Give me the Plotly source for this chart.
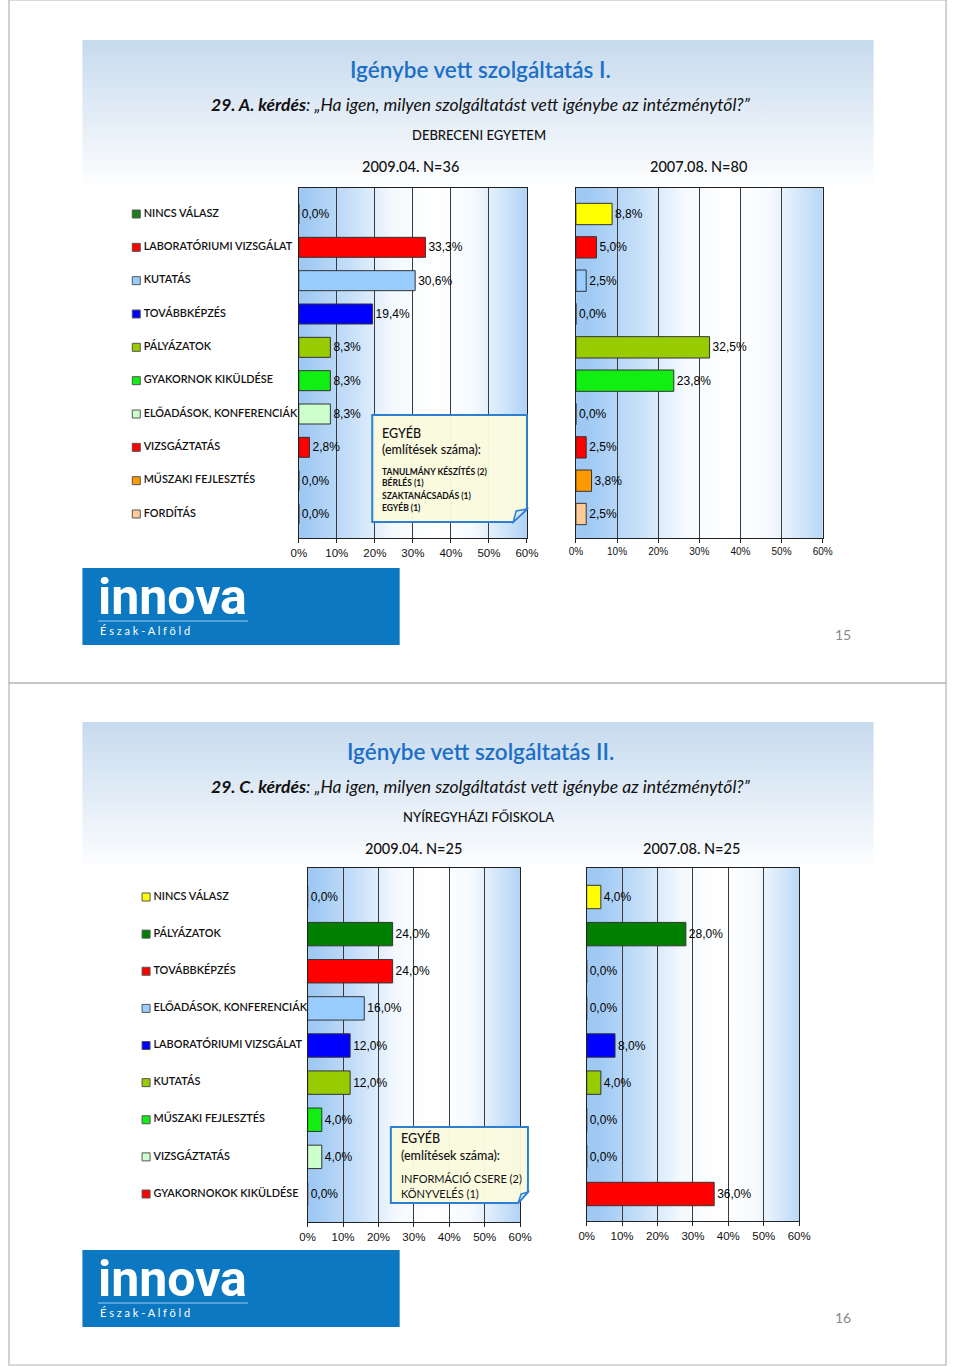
import plotly.graph_objects as go

W, H = 960, 1367

# ---------------- data ----------------
cats_s1 = ["NINCS VÁLASZ", "LABORATÓRIUMI VIZSGÁLAT", "KUTATÁS", "TOVÁBBKÉPZÉS",
           "PÁLYÁZATOK", "GYAKORNOK KIKÜLDÉSE", "ELŐADÁSOK, KONFERENCIÁK",
           "VIZSGÁZTATÁS", "MŰSZAKI FEJLESZTÉS", "FORDÍTÁS"]
vals_s1_2009 = [0.0, 33.3, 30.6, 19.4, 8.3, 8.3, 8.3, 2.8, 0.0, 0.0]
vals_s1_2007 = [8.8, 5.0, 2.5, 0.0, 32.5, 23.8, 0.0, 2.5, 3.8, 2.5]
colors_s1_2009 = ["#1b7f1b", "#ff0000", "#99ccff", "#0000ff", "#99cc00",
                  "#11ee11", "#ccffcc", "#ff0000", "#ff9900", "#ffcc99"]
colors_s1_2007 = ["#ffff00", "#ff0000", "#99ccff", "#0000ff", "#99cc00",
                  "#11ee11", "#ccffcc", "#ff0000", "#ff9900", "#ffcc99"]

cats_s2 = ["NINCS VÁLASZ", "PÁLYÁZATOK", "TOVÁBBKÉPZÉS", "ELŐADÁSOK, KONFERENCIÁK",
           "LABORATÓRIUMI VIZSGÁLAT", "KUTATÁS", "MŰSZAKI FEJLESZTÉS",
           "VIZSGÁZTATÁS", "GYAKORNOKOK KIKÜLDÉSE"]
vals_s2_2009 = [0.0, 24.0, 24.0, 16.0, 12.0, 12.0, 4.0, 4.0, 0.0]
vals_s2_2007 = [4.0, 28.0, 0.0, 0.0, 8.0, 4.0, 0.0, 0.0, 36.0]
colors_s2 = ["#ffff00", "#008000", "#ff0000", "#99ccff", "#0000ff",
             "#99cc00", "#11ee11", "#ccffcc", "#ff0000"]

tick_vals = [0, 10, 20, 30, 40, 50, 60]
tick_text = ["0%", "10%", "20%", "30%", "40%", "50%", "60%"]

egyeb_s1 = ["TANULMÁNY KÉSZÍTÉS (2)", "BÉRLÉS (1)", "SZAKTANÁCSADÁS (1)", "EGYÉB (1)"]
egyeb_s2 = ["INFORMÁCIÓ CSERE (2)", "KÖNYVELÉS (1)"]


def px(x):
    return x / W


def py(y):
    return 1 - y / H


def fmt(v):
    return f"{v:.1f}".replace(".", ",") + "%"


ARIAL = "Liberation Sans, Arial, sans-serif"
CAL = "Lato, Open Sans, sans-serif"

fig = go.Figure()

# page-decoration axis (first subplot, drawn underneath the charts)
fig.update_layout(
    xaxis=dict(domain=[0, 1], range=[0, W], visible=False, fixedrange=True),
    yaxis=dict(domain=[0, 1], range=[H, 0], visible=False, fixedrange=True),
)


def panel(x0, x1, y0, y1, **kw):
    fig.add_trace(go.Scatter(x=[x0, x1, x1, x0, x0], y=[y0, y0, y1, y1, y0],
                             mode="lines", line=dict(width=0), fill="toself",
                             hoverinfo="skip", showlegend=False,
                             xaxis="x", yaxis="y", **kw))


for (t, b) in [(40, 190), (722, 872)]:
    panel(76, 884, t, b,
          fillgradient=dict(type="vertical", start=t, stop=b,
                            colorscale=[[0, "#c6daee"], [1, "#ffffff"]]))
for t in [568, 1250]:
    panel(76, 400, t, t + 77, fillcolor="#0b78c1")

charts = [
    dict(n=2, cats=cats_s1, vals=vals_s1_2009, cols=colors_s1_2009, x0=297, x1=530,
         top=188, bot=538, first=214, last=514, bw=0.6, fs=12, tfs=11.5),
    dict(n=3, cats=cats_s1, vals=vals_s1_2007, cols=colors_s1_2007, x0=580, x1=832,
         top=188, bot=538, first=214, last=514, bw=0.64, fs=12, tfs=10),
    dict(n=4, cats=cats_s2, vals=vals_s2_2009, cols=colors_s2, x0=306, x1=523,
         top=868, bot=1222, first=897, last=1194, bw=0.63, fs=12, tfs=11.5),
    dict(n=5, cats=cats_s2, vals=vals_s2_2007, cols=colors_s2, x0=591, x1=808,
         top=868, bot=1221, first=897, last=1194, bw=0.63, fs=12, tfs=11.5),
]

bg_scale = [[0, "#9fc9f3"], [0.18, "#c3ddf8"], [0.38, "#f4f9fe"], [0.55, "#ffffff"],
            [0.72, "#f6fafe"], [0.86, "#cfe4f9"], [1, "#9fc9f3"]]

for c in charts:
    panel(c["x0"], c["x1"], c["top"], c["bot"],
          fillgradient=dict(type="horizontal", start=c["x0"], stop=c["x1"],
                            colorscale=bg_scale))

for c in charts:
    n = c["n"]
    cnt = len(c["cats"])
    s = (c["last"] - c["first"]) / (cnt - 1)
    yr = [cnt - 1 + (c["bot"] - c["last"]) / s, -(c["first"] - c["top"]) / s]
    ypos = list(range(cnt))
    xa, ya = f"x{n}", f"y{n}"
    fig.layout[f"xaxis{n}"] = dict(
        domain=[px(c["x0"]), px(c["x1"])], anchor=ya, range=[0, 60],
        tickvals=tick_vals, ticktext=tick_text, showgrid=True, gridcolor="#3a3a3a",
        gridwidth=1, showline=True, linecolor="#222", linewidth=1, mirror=True,
        ticks="outside", ticklen=4, tickcolor="#222", zeroline=False,
        tickfont=dict(family=ARIAL, size=c["tfs"], color="#111"), fixedrange=True)
    fig.layout[f"yaxis{n}"] = dict(
        domain=[py(c["bot"]), py(c["top"])], anchor=xa, range=yr,
        showticklabels=False, showgrid=False, zeroline=False, showline=True,
        linecolor="#222", linewidth=1, mirror=True, fixedrange=True)
    fig.add_trace(go.Bar(
        x=c["vals"], y=ypos, orientation="h", width=c["bw"],
        marker=dict(color=c["cols"], line=dict(color="#333333", width=1)),
        text=[fmt(v) for v in c["vals"]], textposition="outside",
        textfont=dict(family=ARIAL, size=c["fs"], color="#000"),
        cliponaxis=False, showlegend=False, hoverinfo="skip", xaxis=xa, yaxis=ya))

legends = [
    dict(n=6, ya="y2", cats=cats_s1, cols=colors_s1_2009, x0=131, fs=10.9),
    dict(n=7, ya="y4", cats=cats_s2, cols=colors_s2, x0=141, fs=10.9),
]
for L in legends:
    fig.layout[f"xaxis{L['n']}"] = dict(domain=[px(L["x0"]), px(L["x0"] + 150)],
                                        range=[0, 1], anchor=L["ya"], visible=False,
                                        fixedrange=True)
    fig.add_trace(go.Scatter(
        x=[0] * len(L["cats"]), y=list(range(len(L["cats"]))), mode="markers+text",
        marker=dict(symbol="square", size=8, color=L["cols"],
                    line=dict(color="#555", width=1)),
        text=["\u2009" + t for t in L["cats"]], textposition="middle right",
        textfont=dict(family=CAL, size=L["fs"], color="#111", weight=600),
        cliponaxis=False, showlegend=False, hoverinfo="skip",
        xaxis=f"x{L['n']}", yaxis=L["ya"]))

shapes = []
for (t, b) in [(0, 683), (683, 1365)]:
    shapes.append(dict(type="rect", xref="paper", yref="paper", x0=px(1), x1=px(958),
                       y0=py(t), y1=py(b), line=dict(color="#b4b4b4", width=1.2),
                       fillcolor="rgba(0,0,0,0)", layer="above"))


def callout(x0, y0, x1, y1, fx, fy):
    path = (f"M {px(x0)} {py(y0)} L {px(x1)} {py(y0)} L {px(x1)} {py(fy)} "
            f"L {px(fx)} {py(y1)} L {px(x0)} {py(y1)} Z")
    shapes.append(dict(type="path", xref="paper", yref="paper", path=path,
                       fillcolor="rgba(250,250,222,0.96)",
                       line=dict(color="#2d7fd3", width=2), layer="above"))
    fold = (f"M {px(fx)} {py(y1)} L {px(fx + 3)} {py(fy + 2)} L {px(x1)} {py(fy)} Z")
    shapes.append(dict(type="path", xref="paper", yref="paper", path=fold,
                       fillcolor="#d6e8f8", line=dict(color="#2d7fd3", width=1.5),
                       layer="above"))


callout(372, 415, 530, 522, 516, 509)
callout(391, 1127, 531, 1203, 521, 1192)

for t in [568, 1250]:
    shapes.append(dict(type="line", xref="paper", yref="paper", x0=px(92), x1=px(245),
                       y0=py(t + 53), y1=py(t + 53),
                       line=dict(color="#9ccbef", width=1), layer="above"))

fig.update_layout(shapes=shapes)

ann = []


def text(x, y, s, size, color="#111", family=CAL, xanchor="center", weight=None):
    f = dict(size=size, color=color, family=family)
    if weight:
        f["weight"] = weight
    ann.append(dict(x=px(x), y=py(y), xref="paper", yref="paper", text=s,
                    showarrow=False, xanchor=xanchor, yanchor="middle", font=f))


for (y0, roman, letter, inst, n09, n07, x09, x07, pg) in [
        (0, "I.", "A.", "DEBRECENI EGYETEM", "N=36", "N=80", 411, 705, "15"),
        (682, "II.", "C.", "NYÍREGYHÁZI FŐISKOLA", "N=25", "N=25", 414, 698, "16")]:
    text(483, y0 + 69, f"Igénybe vett szolgáltatás {roman}", 22.5, color="#1c6fc6",
         weight=600)
    text(483, y0 + 104,
         f"<b><i>29. {letter} kérdés</i></b><i>: „Ha igen, milyen szolgáltatást vett "
         f"igénybe az intézménytől?”</i>", 17.5, color="#111")
    text(481, y0 + 135, inst, 13, color="#111", weight=500)
    text(x09, y0 + 166, f"2009.04. {n09}", 14.5, color="#111", weight=500)
    text(x07, y0 + 166, f"2007.08. {n07}", 14.5, color="#111", weight=500)
    text(853, y0 + 635, pg, 14, color="#8a8a8a")
    text(90, y0 + 597, "<b>innova</b>", 50, color="#ffffff",
         family="Roboto, sans-serif", xanchor="left")
    text(92, y0 + 630, "É s z a k - A l f ö l d", 11, color="#ffffff",
         family=CAL, xanchor="left")

text(380, 433, "EGYÉB", 12.5, xanchor="left", weight=500)
text(380, 449, "(említések száma):", 12.5, xanchor="left", weight=500)
for i, s in enumerate(egyeb_s1):
    text(380, 471 + i * 12, f"<b>{s}</b>", 8.5, xanchor="left")
text(399, 1138, "EGYÉB", 12.5, xanchor="left", weight=500)
text(399, 1155, "(említések száma):", 12.5, xanchor="left", weight=500)
for i, s in enumerate(egyeb_s2):
    text(399, 1178 + i * 15, s, 11, xanchor="left")

fig.update_layout(
    annotations=ann, width=W, height=H, margin=dict(l=0, r=0, t=0, b=0),
    paper_bgcolor="#ffffff", plot_bgcolor="rgba(0,0,0,0)", showlegend=False,
    bargap=0.4,
)

post = """
var gd = document.getElementById('{plot_id}');
document.documentElement.style.margin = '0';
document.documentElement.style.overflow = 'hidden';
document.body.style.margin = '0';
document.body.style.overflow = 'hidden';
gd.style.position = 'fixed';
gd.style.left = '0px';
gd.style.top = '0px';
"""
fig.write_html("out.html", config={"displayModeBar": False}, post_script=post)
